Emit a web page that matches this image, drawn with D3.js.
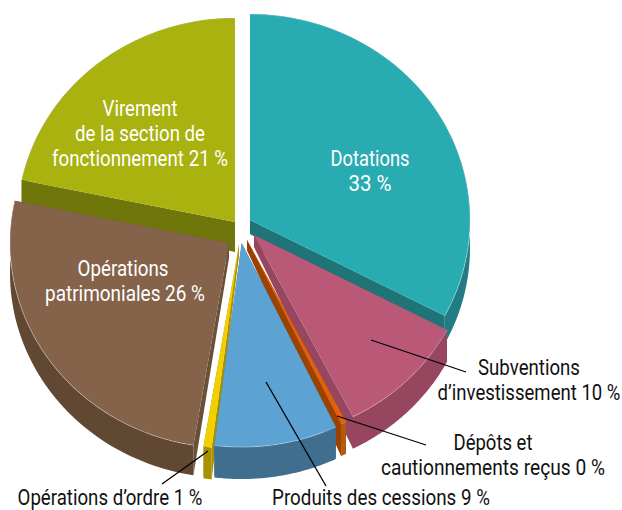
<!DOCTYPE html>
<html><head><meta charset="utf-8">
<style>html,body{margin:0;padding:0;background:#fff}svg{display:block}text{font-family:Roboto,sans-serif;font-size:22.5px}</style>
<script src="https://cdnjs.cloudflare.com/ajax/libs/d3/7.8.5/d3.min.js"></script>
</head><body><svg id="c" width="622" height="510"></svg>
<script>
const categories=["Dotations","Subventions","Dépôts","Produits","Ordre","Patrimoniales","Virement"];
const values=[32.7,9.8,0.4,9.1,0.6,25.7,21.7];
const topColors=["#29abb2","#ba5878","#e0600f","#5ca2d3","#f2cf00","#85634a","#a9b20f"];
const faceColors=["#1e7477","#96475f","#9c4200","#3f6e8f","#a89000","#6b5039","#6f760a"];
const rimColors=["#237c85","#96475f","#b5590f","#3f6e8f","#a89000","#614833","#6f760a"];
const centersX=[250,254,247,241.7,239,229,235];
const centersY=[220,235,240,243,245,243,222];
const radii=[220,218,218,218,218,219,218];
const apexDepth=[14,12,10,10,10,15,30];
const rimDepth=[28,32,32,32,32,30,25];
const drawOrder=[6,0,1,5,4,2,3];
const squash=0.936;
const labelLines=[
 ["Dotations",370,166,79,"#fff"],["33 %",370,191,43,"#fff"],
 ["Virement",140,116,75,"#fff"],["de la section de",140,141,130,"#fff"],["fonctionnement 21 %",140,166,176,"#fff"],
 ["Opérations",123,276,91,"#fff"],["patrimoniales 26 %",125,301,160,"#fff"],
 ["Subventions",529,375,102,"#111"],["d’investissement 10 %",529,400,183,"#111"],
 ["Dépôts et",493,450,79,"#111"],["cautionnements reçus 0 %",493,475,224,"#111"],
 ["Produits des cessions 9 %",381,504.5,218,"#111"],
 ["Opérations d’ordre 1 %",110,504.5,185,"#111"]];
const leaders=[[371,340,466,372],[337,416,426,445],[266,382,326,486],[208,451,162,484]];

const svg=d3.select("#c");
const arcs=d3.pie().sort(null).value(d=>d)(values);
const arcGen=d3.arc().innerRadius(0);
const line=d3.line();
drawOrder.forEach(i=>{
  const a=arcs[i],cx=centersX[i],cy=centersY[i],r=radii[i];
  const P=(t,f)=>[cx+f*r*Math.sin(t),cy-f*r*squash*Math.cos(t)];
  const dep=f=>apexDepth[i]+(rimDepth[i]-apexDepth[i])*f;
  const g=svg.append("g");
  [a.startAngle,a.endAngle].forEach(t=>{
    const o=P(t,1),c=P(t,0);
    g.append("path").attr("d",line([c,o,[o[0],o[1]+dep(1)],[c[0],c[1]+dep(0)]])+"Z").attr("fill",faceColors[i]);
  });
  const ts=d3.range(0,61).map(k=>a.startAngle+(a.endAngle-a.startAngle)*k/60);
  const up=ts.map(t=>P(t,1));
  const down=ts.map(t=>{const p=P(t,1);return [p[0],p[1]+dep(1)];}).reverse();
  g.append("path").attr("d",line(up.concat(down))+"Z").attr("fill",rimColors[i]);
  g.append("path").attr("transform",`translate(${cx},${cy}) scale(1,${squash})`)
   .attr("d",arcGen({innerRadius:0,outerRadius:r,startAngle:a.startAngle,endAngle:a.endAngle}))
   .attr("fill",topColors[i]);
  g.append("path").attr("d",line(up)).attr("fill","none").attr("stroke","#fff").attr("stroke-opacity",.45).attr("stroke-width",.7);
});
svg.selectAll("line.l").data(leaders).join("line").attr("class","l")
 .attr("x1",d=>d[0]).attr("y1",d=>d[1]).attr("x2",d=>d[2]).attr("y2",d=>d[3])
 .attr("stroke","#000").attr("stroke-width",1.3);
svg.selectAll("text.t").data(labelLines).join("text").attr("class","t")
 .attr("text-anchor","middle").attr("fill",d=>d[4]).text(d=>d[0])
 .attr("transform",function(d){
   const w=this.getComputedTextLength();
   return `translate(${d[1]},${d[2]}) scale(${d[3]/w},1)`;
 });
</script></body></html>
